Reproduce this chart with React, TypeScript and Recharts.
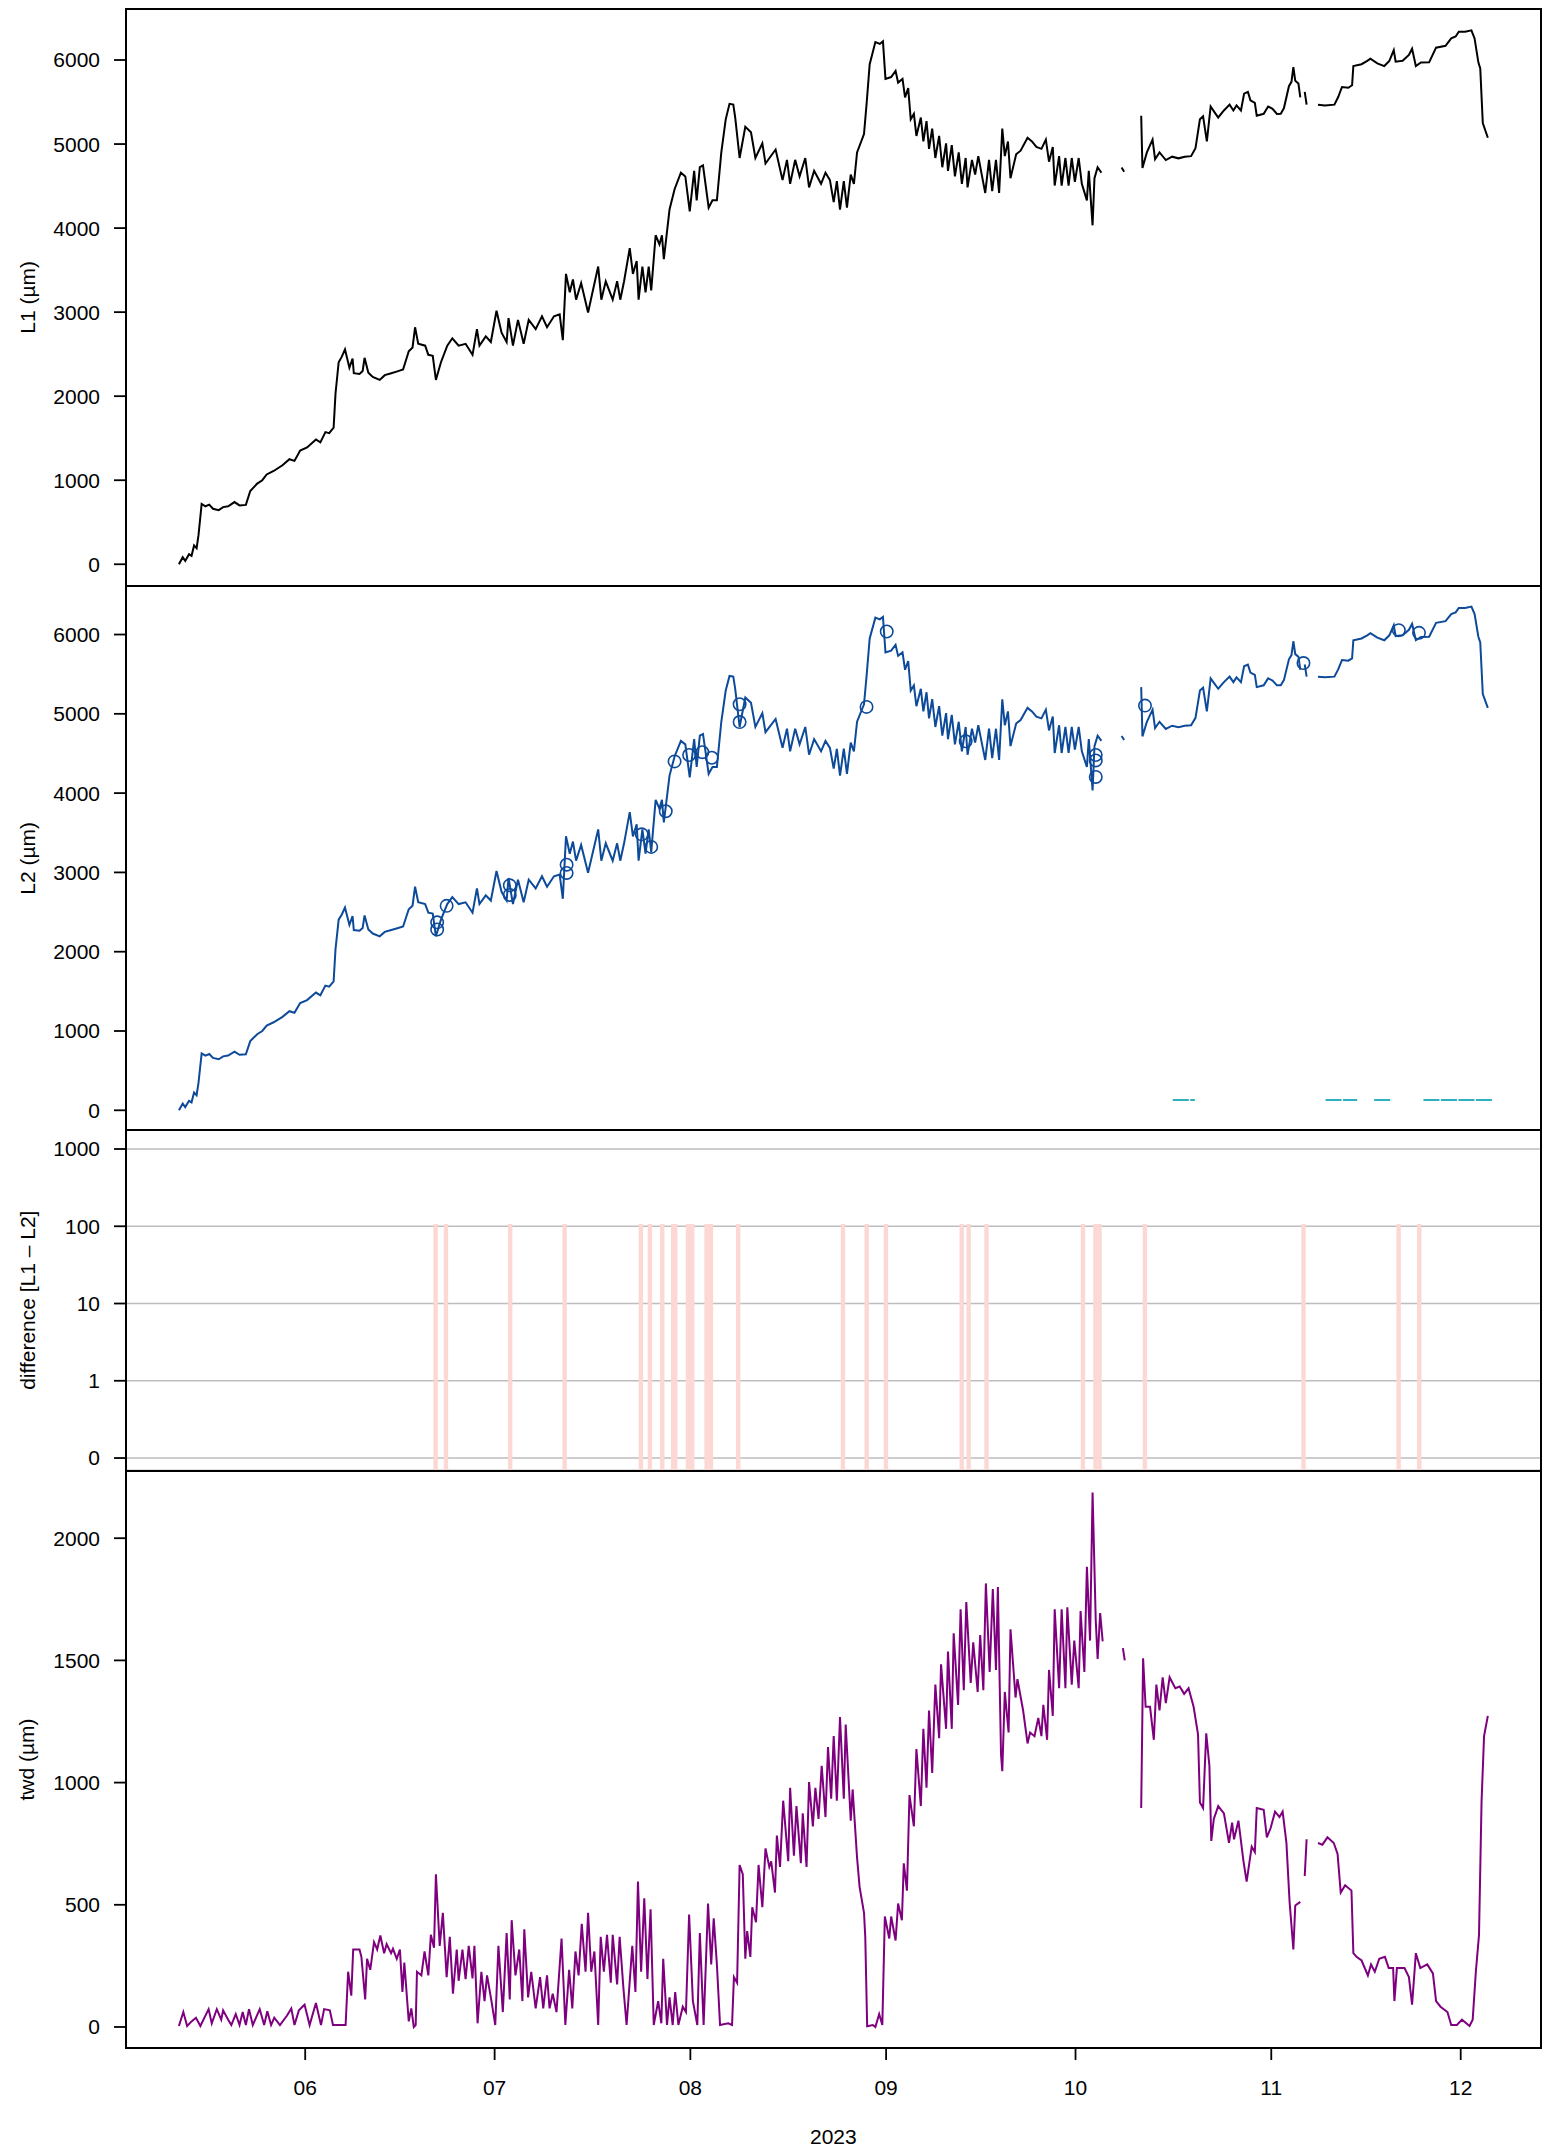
import React from "react";
import { ComposedChart, Line, Bar, Scatter, XAxis, YAxis, CartesianGrid } from "recharts";

const FONT = '"Liberation Sans", Arial, Helvetica, sans-serif';
const FS = 21;
const W = 1557;
const PLOT_RIGHT = 1540.7;
const Y_AXIS_W = 126;

// x is day of year 2023
const X_DOMAIN: [number, number] = [123.62, 347.67];
const monthTicks = [152, 182, 213, 244, 274, 305, 335];
const monthLabels = ["06", "07", "08", "09", "10", "11", "12"];

const lTicks = [0, 1000, 2000, 3000, 4000, 5000, 6000];
const twdTicks = [0, 500, 1000, 1500, 2000];
const diffTickPos = [0, 1, 2, 3, 4];
const diffTickLabels = ["0", "1", "10", "100", "1000"];

// L1 dendrometer series [day, µm]
const l1Series: [number, number | null][] = [
  [132.0, 0], [132.6, 84], [133.0, 40], [133.6, 120], [134.0, 100], [134.4, 224], [134.8, 190], [135.1, 346],
  [135.6, 718], [136.2, 690], [136.8, 710], [137.4, 660], [138.3, 644], [139.0, 680], [139.8, 690], [140.8, 740],
  [141.6, 700], [142.6, 706], [143.3, 872], [144.4, 960], [145.2, 1000], [145.9, 1069], [147.0, 1110], [148.4, 1178],
  [149.5, 1250], [150.3, 1230], [151.2, 1353], [152.3, 1390], [153.7, 1485], [154.4, 1450], [155.2, 1572], [155.8, 1560],
  [156.5, 1625], [156.8, 2032], [157.3, 2404], [157.8, 2470], [158.3, 2557], [159.0, 2338], [159.5, 2448], [159.7, 2273],
  [160.6, 2264], [161.1, 2300], [161.4, 2457], [162.0, 2280], [162.7, 2229], [163.8, 2194], [164.6, 2250], [165.5, 2270],
  [166.6, 2295], [167.5, 2317], [168.4, 2535], [169.0, 2580], [169.4, 2820], [169.9, 2623], [171.0, 2601], [171.5, 2492],
  [172.2, 2480], [172.7, 2194], [173.5, 2404], [174.5, 2601], [175.3, 2689], [176.3, 2601], [177.4, 2623], [178.5, 2492],
  [179.2, 2798], [179.6, 2601], [180.6, 2711], [181.4, 2645], [182.3, 3017], [183.1, 2755], [183.9, 2645], [184.2, 2929],
  [184.9, 2601], [185.7, 2908], [186.6, 2623], [187.4, 2908], [188.5, 2798], [189.5, 2951], [190.3, 2820], [191.4, 2951],
  [192.3, 2973], [192.8, 2667], [193.3, 3455], [193.9, 3236], [194.4, 3389], [194.9, 3148], [195.7, 3346], [196.8, 2995],
  [197.5, 3236], [198.4, 3542], [198.9, 3148], [199.6, 3367], [200.7, 3148], [201.4, 3367], [201.9, 3148], [202.5, 3367],
  [203.4, 3761], [203.9, 3455], [204.5, 3608], [204.8, 3148], [205.4, 3542], [205.9, 3236], [206.4, 3542], [206.8, 3258],
  [207.5, 3915], [208.1, 3805], [208.5, 3915], [208.8, 3630], [209.7, 4221], [210.5, 4462], [211.5, 4659], [212.2, 4615],
  [212.9, 4199], [213.6, 4681], [214.0, 4330], [214.5, 4725], [215.0, 4746], [215.9, 4243], [216.5, 4330], [217.2, 4330],
  [217.9, 4900], [218.6, 5294], [219.2, 5478], [219.8, 5470], [220.1, 5316], [220.8, 4834], [221.7, 5206], [222.6, 5140],
  [223.3, 4834], [224.4, 5009], [224.9, 4768], [226.5, 4935], [227.6, 4571], [228.3, 4812], [228.8, 4527], [229.6, 4812],
  [230.3, 4615], [231.2, 4834], [231.8, 4484], [232.6, 4681], [233.7, 4527], [234.4, 4659], [235.1, 4571], [235.7, 4309],
  [236.2, 4558], [236.7, 4221], [237.3, 4560], [237.8, 4243], [238.4, 4637], [238.9, 4527], [239.4, 4900], [240.5, 5119],
  [240.9, 5469], [241.4, 5950], [242.3, 6213], [243.0, 6191], [243.5, 6222], [243.9, 5775], [244.8, 5797], [245.5, 5871],
  [245.9, 5731], [246.6, 5775], [247.0, 5556], [247.5, 5666], [247.9, 5294], [248.4, 5359], [248.8, 5097], [249.5, 5316],
  [249.9, 5031], [250.4, 5272], [250.8, 4943], [251.3, 5184], [251.8, 4834], [252.4, 5097], [252.9, 4724], [253.5, 5009],
  [253.8, 4681], [254.4, 4987], [254.9, 4615], [255.5, 4900], [256.0, 4527], [256.6, 4834], [256.9, 4484], [257.6, 4812],
  [258.1, 4637], [258.6, 4856], [259.2, 4615], [259.7, 4418], [260.3, 4812], [260.8, 4440], [261.4, 4812], [261.9, 4418],
  [262.4, 5184], [262.8, 4856], [263.3, 5031], [263.7, 4593], [264.6, 4878], [265.3, 4921], [266.4, 5075], [267.1, 5031],
  [267.8, 4965], [268.6, 4943], [269.3, 5053], [269.8, 4790], [270.4, 4965], [270.7, 4506], [271.4, 4856], [271.8, 4506],
  [272.4, 4834], [272.9, 4506], [273.4, 4834], [273.9, 4549], [274.5, 4834], [275.0, 4527], [275.8, 4330], [276.1, 4681],
  [276.7, 4033], [277.0, 4593], [277.5, 4724], [278.1, 4659], [279.5, null], [281.3, 4720], [281.7, 4670], [283.0, null],
  [284.4, 5337], [284.6, 4716], [285.3, 4900], [286.2, 5053], [286.6, 4820], [287.3, 4900], [288.3, 4810], [289.3, 4850],
  [290.3, 4830], [291.3, 4850], [292.3, 4856], [293.0, 4950], [293.7, 5294], [294.2, 5330], [294.8, 5031], [295.4, 5447],
  [296.0, 5380], [296.6, 5316], [297.5, 5400], [298.4, 5469], [299.0, 5400], [299.5, 5460], [300.2, 5400], [300.7, 5600],
  [301.3, 5620], [301.7, 5520], [302.4, 5491], [302.7, 5337], [303.8, 5360], [304.5, 5447], [305.2, 5420], [305.9, 5359],
  [306.5, 5360], [307.0, 5425], [307.8, 5688], [308.2, 5740], [308.5, 5915], [308.8, 5753], [309.3, 5720], [309.6, 5556],
  [309.9, null], [310.3, 5622], [310.6, 5469], [311.5, null], [312.4, 5469], [313.5, 5460], [315.0, 5469], [315.6, 5560],
  [316.2, 5679], [317.2, 5670], [317.8, 5700], [318.0, 5928], [319.3, 5950], [320.2, 5990], [320.7, 6016], [321.8, 5960],
  [322.9, 5928], [323.7, 5990], [324.4, 6117], [324.7, 5980], [325.8, 5990], [326.8, 6060], [327.3, 6134], [327.9, 5928],
  [328.7, 5970], [330.0, 5972], [331.1, 6147], [332.6, 6169], [333.5, 6257], [334.2, 6280], [334.7, 6336], [335.7, 6336],
  [336.7, 6353], [337.2, 6257], [337.8, 5972], [338.1, 5900], [338.5, 5250], [339.3, 5075],
];

// L2 runs on top of L1 in the picture
const l2Series = l1Series;

// L2 points flagged (circles) [day, µm]
const l2Flagged: [number, number][] = [
  [172.9, 2280], [172.9, 2370], [174.4, 2578], [184.4, 2837], [184.4, 2716], [193.4, 2993], [193.4, 3097],
  [205.3, 3480], [206.8, 3322], [209.1, 3772], [210.5, 4400], [212.8, 4481], [214.9, 4516], [216.4, 4446],
  [220.8, 5121], [220.8, 4896], [240.9, 5087], [244.1, 6038], [256.6, 4654], [277.2, 4481], [277.2, 4412],
  [277.2, 4204], [285.0, 5104], [310.1, 5640], [325.2, 6055], [328.4, 6021],
];

// low cyan trace in the L2 panel [day, µm]
const l2Low: [number, number | null][] = [
  [289.4, 130], [292.9, 130], [293.2, null], [313.6, 130], [318.6, 130], [319.0, null],
  [321.3, 130], [324.1, 130], [324.5, null], [329.1, 130], [340.0, 130],
];

// difference L1 - L2
const diffDays = [
  172.67, 174.3, 184.48, 193.1, 205.18, 206.61, 208.56, 210.3, 210.62, 212.63, 213.31, 215.59, 216.27, 220.59,
  237.18, 240.94, 243.99, 255.99, 257.09, 259.92, 275.19, 277.17, 277.82, 285.0, 310.12, 325.19, 328.45,
];
const diffValues = [
  107, 107, 107, 107, 107, 107, 107, 107, 107, 107, 107, 107, 107, 107,
  107, 107, 107, 107, 107, 107, 107, 107, 107, 107, 107, 107, 107,
];

// tree water deficit [day, µm]
const twdSeries: [number, number | null][] = [
  [132.0, 4], [132.7, 61], [133.3, 4], [134.0, 23], [134.7, 38], [135.4, 4], [136.7, 73], [137.2, 15],
  [138.0, 73], [138.7, 30], [139.0, 68], [139.8, 30], [140.3, 8], [141.0, 53], [141.6, 8], [142.1, 61],
  [142.6, 8], [143.1, 73], [143.7, 8], [144.8, 73], [145.5, 8], [146.0, 64], [146.6, 8], [147.1, 38],
  [148.0, 8], [149.1, 46], [149.8, 76], [150.3, 8], [151.0, 68], [151.9, 91], [152.7, 8], [153.7, 98],
  [154.5, 8], [155.0, 73], [155.9, 68], [156.4, 8], [158.4, 8], [158.8, 226], [159.3, 128], [159.6, 317],
  [160.6, 317], [160.9, 287], [161.5, 113], [161.8, 279], [162.3, 234], [162.9, 347], [163.4, 317], [163.9, 374],
  [164.5, 302], [164.9, 339], [165.6, 302], [165.9, 320], [166.5, 279], [167.0, 317], [167.4, 143], [167.7, 264],
  [168.4, 23], [168.8, 76], [169.2, 0], [169.5, 8], [169.7, 226], [170.4, 211], [170.9, 309], [171.5, 211],
  [171.9, 377], [172.4, 324], [172.7, 625], [173.3, 332], [173.8, 467], [174.4, 204], [174.9, 369], [175.4, 136],
  [176.0, 317], [176.3, 189], [176.9, 317], [177.4, 196], [177.9, 332], [178.5, 199], [178.8, 332], [179.3, 15],
  [179.9, 226], [180.4, 106], [180.8, 211], [181.5, 106], [182.1, 8], [182.6, 332], [183.3, 61], [183.9, 384],
  [184.4, 113], [184.7, 437], [185.3, 211], [185.9, 317], [186.4, 106], [186.7, 400], [187.3, 121], [187.8, 226],
  [188.5, 76], [189.2, 204], [189.7, 76], [190.3, 211], [190.7, 76], [191.2, 136], [191.8, 61], [192.6, 362],
  [193.2, 8], [193.8, 234], [194.3, 76], [194.8, 309], [195.3, 211], [195.8, 422], [196.4, 226], [196.8, 467],
  [197.3, 226], [197.8, 309], [198.4, 8], [198.8, 369], [199.3, 226], [199.8, 377], [200.4, 181], [200.7, 377],
  [201.4, 174], [201.8, 369], [202.4, 158], [202.9, 8], [203.8, 332], [204.3, 143], [204.7, 595], [205.2, 226],
  [205.7, 527], [206.2, 196], [206.7, 482], [207.2, 8], [207.9, 106], [208.4, 15], [208.7, 279], [209.3, 8],
  [209.7, 121], [210.2, 8], [210.6, 143], [211.1, 8], [211.8, 83], [212.3, 61], [212.8, 460], [213.4, 106],
  [214.1, 8], [214.5, 384], [215.1, 8], [215.8, 505], [216.3, 256], [216.7, 445], [217.2, 256], [217.7, 8],
  [219.0, 15], [219.6, 8], [219.9, 204], [220.4, 181], [220.8, 663], [221.3, 625], [221.7, 279], [222.0, 392],
  [222.5, 287], [222.8, 490], [223.4, 429], [223.8, 663], [224.4, 490], [224.9, 731], [225.5, 655], [225.8, 678],
  [226.4, 550], [226.7, 783], [227.2, 655], [227.7, 926], [228.5, 678], [228.8, 979], [229.4, 701], [229.8, 904],
  [230.5, 670], [230.8, 874], [231.4, 655], [231.8, 1002], [232.4, 821], [232.8, 979], [233.3, 851], [233.8, 1069],
  [234.4, 859], [234.8, 1145], [235.3, 934], [235.7, 1190], [236.2, 926], [236.7, 1268], [237.3, 934], [237.6, 1238],
  [238.4, 844], [238.7, 972], [239.4, 693], [239.8, 573], [240.5, 467], [240.7, 369], [241.0, 3], [241.9, 8],
  [242.3, 0], [242.9, 53], [243.4, 8], [243.8, 452], [244.5, 362], [244.8, 452], [245.5, 354], [245.9, 505],
  [246.5, 437], [246.8, 670], [247.3, 558], [247.7, 949], [248.4, 821], [248.8, 1137], [249.5, 904], [249.9, 1220],
  [250.4, 979], [250.8, 1295], [251.3, 1039], [251.8, 1401], [252.4, 1182], [252.7, 1484], [253.5, 1220], [253.8, 1536],
  [254.4, 1220], [254.7, 1611], [255.4, 1318], [255.8, 1709], [256.3, 1378], [256.7, 1739], [257.4, 1408], [257.8, 1574],
  [258.5, 1371], [258.9, 1604], [259.4, 1378], [259.8, 1815], [260.4, 1453], [260.9, 1792], [261.4, 1461], [261.7, 1800],
  [262.2, 1115], [262.4, 1047], [262.8, 1371], [263.4, 1205], [263.7, 1627], [264.5, 1348], [264.8, 1423], [265.7, 1295],
  [266.4, 1160], [266.8, 1205], [267.5, 1190], [268.1, 1265], [268.6, 1190], [268.9, 1318], [269.5, 1175], [269.8, 1461],
  [270.4, 1273], [270.7, 1709], [271.4, 1386], [271.8, 1709], [272.4, 1386], [272.7, 1717], [273.4, 1401], [273.8, 1581],
  [274.5, 1386], [274.8, 1702], [275.4, 1453], [275.8, 1883], [276.3, 1581], [276.7, 2187], [277.2, 1664], [277.5, 1506],
  [277.9, 1694], [278.3, 1578], [279.5, null], [281.5, 1550], [281.8, 1500], [283.0, null], [284.4, 896], [284.7, 1509],
  [285.1, 1310], [285.8, 1310], [286.4, 1175], [286.8, 1401], [287.3, 1295], [287.8, 1431], [288.3, 1325], [288.9, 1431],
  [289.8, 1386], [290.5, 1393], [291.2, 1363], [291.9, 1386], [292.7, 1310], [293.4, 1197], [293.7, 919], [294.2, 896],
  [294.7, 1202], [295.2, 1069], [295.5, 761], [295.9, 851], [296.6, 904], [297.5, 874], [298.3, 753], [298.8, 836],
  [299.1, 768], [299.8, 844], [300.6, 678], [301.1, 595], [301.9, 738], [302.4, 716], [302.7, 896], [303.8, 889],
  [304.3, 776], [304.9, 814], [305.6, 881], [306.3, 859], [306.8, 881], [307.4, 753], [307.9, 512], [308.5, 317],
  [308.8, 497], [309.6, 512], [309.9, null], [310.3, 618], [310.6, 768], [311.5, null], [312.4, 753], [313.1, 746],
  [313.9, 776], [314.9, 753], [315.5, 708], [316.0, 550], [316.7, 580], [317.7, 558], [318.0, 302], [318.5, 287],
  [319.3, 272], [320.3, 211], [320.8, 256], [321.4, 226], [322.1, 279], [323.0, 287], [323.6, 241], [324.3, 241],
  [324.5, 106], [324.9, 241], [326.1, 241], [326.8, 204], [327.3, 91], [327.9, 302], [328.6, 241], [329.7, 256],
  [330.6, 219], [331.1, 106], [331.8, 83], [332.9, 61], [333.5, 8], [334.4, 8], [335.2, 30], [336.4, 4],
  [336.9, 30], [337.4, 226], [337.9, 377], [338.3, 919], [338.7, 1190], [339.3, 1273],
];

const toRows = (pts: [number, number | null][]) => pts.map(([x, y]) => ({ x, y }));

const DIFF_MIN = -0.16;
const diffRows = diffDays.map((d, i) => ({ x: d, range: [DIFF_MIN, Math.log10(diffValues[i]) + 1] }));

const panels = {
  l1: { top: 9, bottom: 585.7, domain: [-255, 6607] as [number, number] },
  l2: { top: 585.7, bottom: 1130.3, domain: [-256, 6612] as [number, number] },
  diff: { top: 1130.3, bottom: 1470.7, domain: [DIFF_MIN, 4.246] as [number, number] },
  twd: { top: 1470.7, bottom: 2047.7, domain: [-86, 2275] as [number, number] },
};
const X_AXIS_H = 2152 - 2047.7;

const tickStyle = { fill: "#000", fontSize: FS, fontFamily: FONT };
const tickLineStyle = { stroke: "#000", strokeWidth: 1.8 };

const yTitle = (text: string) => (props: any) => {
  const vb = props.viewBox || {};
  const cy = (vb.y ?? 0) + (vb.height ?? 0) / 2;
  return (
    <text
      x={27}
      y={cy}
      transform={`rotate(-90 27 ${cy})`}
      textAnchor="middle"
      dominantBaseline="central"
      fontFamily={FONT}
      fontSize={FS}
      fill="#000"
    >
      {text}
    </text>
  );
};

const xTitle = (props: any) => {
  const vb = props.viewBox || {};
  const cx = (vb.x ?? 0) + (vb.width ?? 0) / 2;
  return (
    <text x={cx} y={(vb.y ?? 0) + 89} textAnchor="middle" dominantBaseline="central" fontFamily={FONT} fontSize={FS} fill="#000">
      2023
    </text>
  );
};

const HollowCircle = (props: any) => {
  if (props.cx == null || props.cy == null) return null;
  return <circle cx={props.cx} cy={props.cy} r={6.2} fill="none" stroke="#0d4a9a" strokeWidth={1.6} />;
};

// the x band of neighbouring flags is narrow, so draw every flag 4px wide round its centre
const FlagBar = (props: any) => {
  if (props.x == null || props.height == null) return null;
  const cx = props.x + props.width / 2;
  const y = Math.min(props.y, props.y + props.height);
  return <rect x={cx - 2.2} y={y} width={4.4} height={Math.abs(props.height)} fill="#fbd8d4" />;
};

const margin = { top: 0, right: W - PLOT_RIGHT, bottom: 0, left: 0 };

function HiddenX() {
  return <XAxis dataKey="x" type="number" domain={X_DOMAIN} allowDataOverflow hide />;
}

function Frame({ top, bottom }: { top: number; bottom: number }) {
  return (
    <div
      style={{
        position: "absolute",
        left: Y_AXIS_W - 1,
        top: top - 1,
        width: PLOT_RIGHT - Y_AXIS_W + 2,
        height: bottom - top + 2,
        border: "2px solid #000",
        boxSizing: "border-box",
        pointerEvents: "none",
      }}
    />
  );
}

export default function App() {
  const l1Rows = toRows(l1Series);
  const l2Rows = toRows(l2Series);
  const lowRows = toRows(l2Low);
  const flagRows = l2Flagged.map(([x, y]) => ({ x, y }));
  const twdRows = toRows(twdSeries);

  const yAxisCommon = {
    type: "number" as const,
    width: Y_AXIS_W,
    allowDataOverflow: true,
    axisLine: false,
    tickSize: 12,
    tickMargin: 14,
    tick: tickStyle,
    tickLine: tickLineStyle,
    interval: 0 as const,
  };

  return (
    <div style={{ position: "absolute", left: 0, top: 0, width: W, height: 2152, background: "#fff", fontFamily: FONT }}>
      <div style={{ position: "absolute", left: 0, top: panels.l1.top }}>
        <ComposedChart width={W} height={panels.l1.bottom - panels.l1.top} margin={margin}>
          {HiddenX()}
          <YAxis {...yAxisCommon} domain={panels.l1.domain} ticks={lTicks} label={yTitle("L1 (µm)")} />
          <Line data={l1Rows} dataKey="y" stroke="#000" strokeWidth={2} dot={false} isAnimationActive={false} />
        </ComposedChart>
      </div>

      <div style={{ position: "absolute", left: 0, top: panels.l2.top }}>
        <ComposedChart width={W} height={panels.l2.bottom - panels.l2.top} margin={margin}>
          {HiddenX()}
          <YAxis {...yAxisCommon} domain={panels.l2.domain} ticks={lTicks} label={yTitle("L2 (µm)")} />
          <Line data={lowRows} dataKey="y" stroke="#2fb0c0" strokeWidth={1.8} strokeDasharray="16 1.5" dot={false} isAnimationActive={false} />
          <Line data={l2Rows} dataKey="y" stroke="#0d4a9a" strokeWidth={2} dot={false} isAnimationActive={false} />
          <Scatter data={flagRows} dataKey="y" shape={HollowCircle} isAnimationActive={false} />
        </ComposedChart>
      </div>

      <div style={{ position: "absolute", left: 0, top: panels.diff.top }}>
        <ComposedChart width={W} height={panels.diff.bottom - panels.diff.top} margin={margin} data={diffRows}>
          {HiddenX()}
          <YAxis
            {...yAxisCommon}
            domain={panels.diff.domain}
            ticks={diffTickPos}
            tickFormatter={(v: number) => diffTickLabels[diffTickPos.indexOf(v)] ?? ""}
            label={yTitle("difference [L1 – L2]")}
          />
          <CartesianGrid vertical={false} stroke="#bdbdbd" strokeWidth={1.6} />
          <Bar dataKey="range" fill="#fbd8d4" barSize={4} shape={FlagBar} isAnimationActive={false} />
        </ComposedChart>
      </div>

      <div style={{ position: "absolute", left: 0, top: panels.twd.top }}>
        <ComposedChart width={W} height={panels.twd.bottom - panels.twd.top + X_AXIS_H} margin={margin}>
          <XAxis
            dataKey="x"
            type="number"
            domain={X_DOMAIN}
            allowDataOverflow
            ticks={monthTicks}
            interval={0}
            tickFormatter={(v: number) => monthLabels[monthTicks.indexOf(v)] ?? ""}
            height={X_AXIS_H}
            axisLine={false}
            tickSize={12}
            tickMargin={20}
            tick={tickStyle}
            tickLine={tickLineStyle}
            label={xTitle}
          />
          <YAxis {...yAxisCommon} domain={panels.twd.domain} ticks={twdTicks} label={yTitle("twd (µm)")} />
          <Line data={twdRows} dataKey="y" stroke="#7f007f" strokeWidth={2} dot={false} isAnimationActive={false} />
        </ComposedChart>
      </div>

      <Frame top={panels.l1.top} bottom={panels.l1.bottom} />
      <Frame top={panels.l2.top} bottom={panels.l2.bottom} />
      <Frame top={panels.diff.top} bottom={panels.diff.bottom} />
      <Frame top={panels.twd.top} bottom={panels.twd.bottom} />
    </div>
  );
}
